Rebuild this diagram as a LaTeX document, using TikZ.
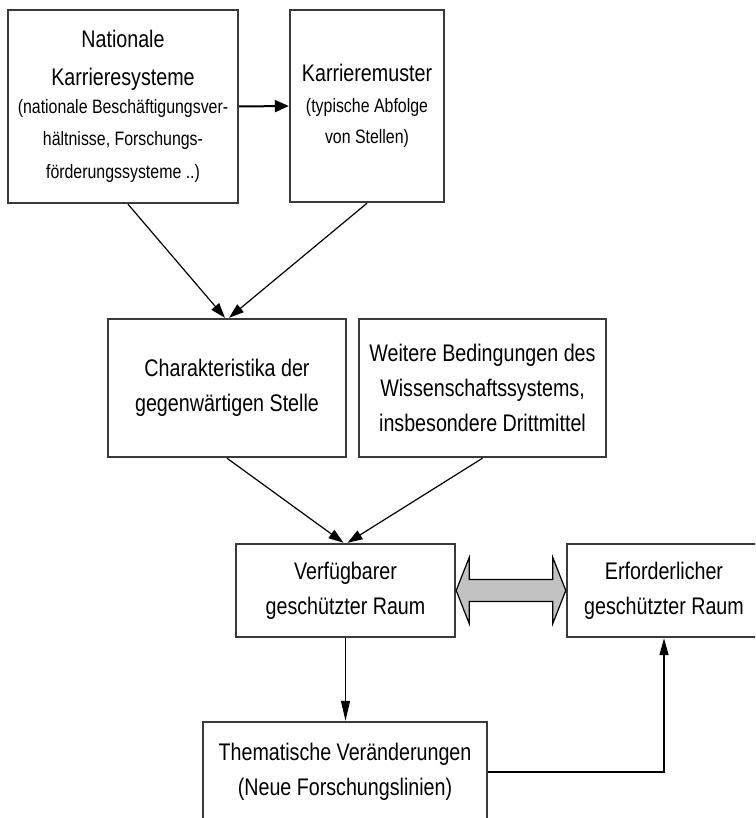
\documentclass[tikz,border=0pt]{standalone}
\usepackage{fontspec}
\setmainfont{Liberation Sans}[FakeStretch=0.82]
\usepackage{tikz}
\usetikzlibrary{arrows.meta,calc}
\definecolor{rand}{HTML}{3A3A3A}
\definecolor{pfeilgrau}{HTML}{C2C2C2}
\newcommand{\gross}{\fontsize{12pt}{17.5pt}\selectfont}
\newcommand{\klein}{\fontsize{9.7pt}{15.5pt}\selectfont}
\tikzstyle{kasten}=[rectangle, draw=rand, line width=1.2pt, fill=white, inner sep=0pt, align=center, font=\gross]
\tikzstyle{pfeil}=[-{Triangle[length=7.5pt,width=5pt]}, draw=black, line width=0.6pt]

\begin{document}
\begin{tikzpicture}[x=0.5pt,y=-0.5pt]
	\clip (0,0) rectangle (755,818);
	\fill[white] (0,0) rectangle (755,818);
	\node[kasten, minimum width=115pt, minimum height=96.5pt] (nk) at (123,106.5) {Nationale\\[1.5pt]Karrieresysteme\\[-3.5pt]{\klein (nationale Beschäftigungsver-}\\[-1.5pt]{\klein hältnisse, Forschungs-}\\[-1pt]{\klein förderungssysteme ..)}};
	\node[kasten, minimum width=77pt, minimum height=96pt] (km) at (367,106) {Karrieremuster\\[-2pt]{\klein (typische Abfolge}\\[-2pt]{\klein von Stellen)}};
	\node[kasten, minimum width=119pt, minimum height=69pt] (cs) at (227,388) {Charakteristika der\\gegenwärtigen Stelle};
	\node[kasten, minimum width=123.5pt, minimum height=69pt] (wb) at (482.5,388) {Weitere Bedingungen des\\Wissenschaftssystems,\\insbesondere Drittmittel};
	\node[kasten, minimum width=109.5pt, minimum height=46.5pt] (vr) at (345.5,590.5) {Verfügbarer\\geschützter Raum};
	\node[kasten, minimum width=97pt, minimum height=46.5pt] (er) at (664,590.5) {Erforderlicher\\geschützter Raum};
	\node[kasten, minimum width=142pt, minimum height=50pt] (tv) at (345,772) {Thematische Veränderungen\\(Neue Forschungslinien)};
	\draw[-{Triangle[length=7pt,width=6pt]}, line width=1pt] (nk.east) -- (km.west);
	\draw[pfeil] ($(nk.south)+(5,0)$) -- ($(cs.north)+(-2,0)$);
	\draw[pfeil] (km.south) -- ($(cs.north)+(2,0)$);
	\draw[pfeil] (cs.south) -- ($(vr.north)+(-2,0)$);
	\draw[pfeil] (wb.south) -- ($(vr.north)+(2,0)$);
	\draw[pfeil, -{Triangle[length=10pt,width=4.5pt]}] (vr.south) -- (vr.south |- tv.north);
	\draw[pfeil, -{Triangle[length=8.5pt,width=4.5pt]}, line width=0.8pt] (tv.east) -| (er.south);
	\draw[fill=pfeilgrau, line width=0.6pt] (vr.east) -- ++(13,-33) -- ++(0,22) -- ($(er.west)+(-13,-11)$) -- ++(0,-22) -- (er.west) -- ++(-13,33) -- ++(0,-22) -- ($(vr.east)+(13,11)$) -- ++(0,22) -- cycle;
\end{tikzpicture}
\end{document}
